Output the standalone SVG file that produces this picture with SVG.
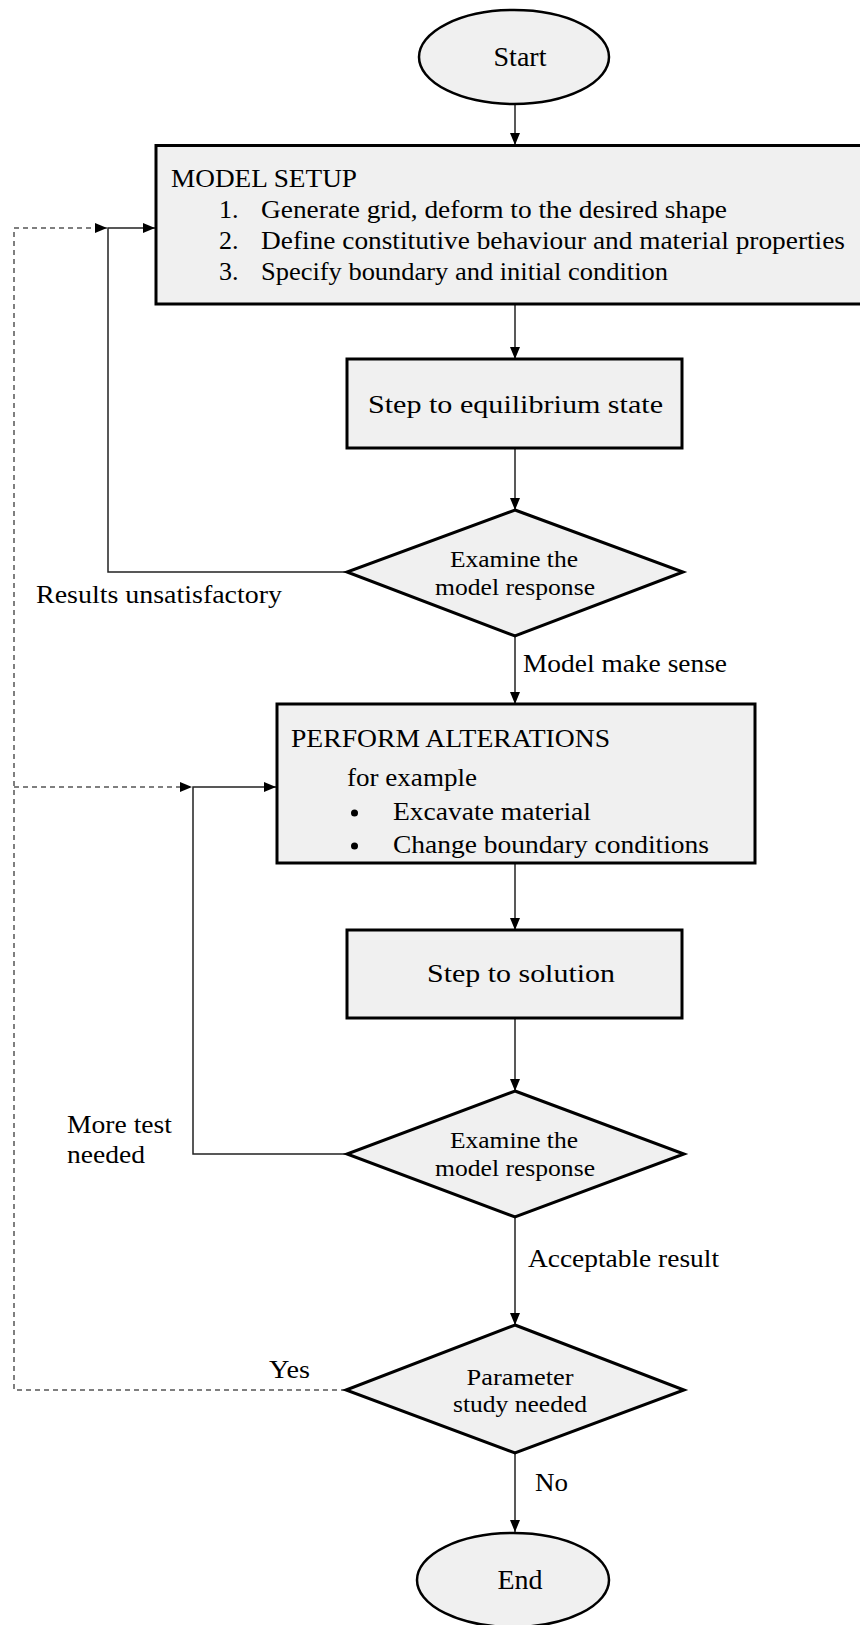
<svg xmlns="http://www.w3.org/2000/svg" width="860" height="1625" viewBox="0 0 860 1625">
<style>
.shape{fill:#f0f0f0;stroke:#000;stroke-width:3}
.oval{fill:#f0f0f0;stroke:#000;stroke-width:2.5}
.t{font-family:"Liberation Serif","Times New Roman",serif;fill:#000}
.box{font-size:26px}
.dia{font-size:23px}
.lab{font-size:25px}
.term{font-size:28px}
.c{fill:none;stroke:#222;stroke-width:1.5}
.d{fill:none;stroke:#555;stroke-width:1.5;stroke-dasharray:5 4}
</style>
<defs>
<marker id="ah" viewBox="0 0 12 10" refX="12" refY="5" markerWidth="12" markerHeight="10" markerUnits="userSpaceOnUse" orient="auto">
<path d="M0,0 L12,5 L0,10 z" fill="#000"/>
</marker>
</defs>
<rect width="860" height="1625" fill="#fff"/>

<g id="connectors">
<line class="c" x1="515" y1="104" x2="515" y2="145" marker-end="url(#ah)"/>
<line class="c" x1="515" y1="304" x2="515" y2="359" marker-end="url(#ah)"/>
<line class="c" x1="515" y1="448" x2="515" y2="510" marker-end="url(#ah)"/>
<line class="c" x1="515" y1="636" x2="515" y2="704" marker-end="url(#ah)"/>
<polyline class="c" points="347,572 108,572 108,228 155,228" marker-end="url(#ah)"/>
<line class="c" x1="515" y1="863" x2="515" y2="930" marker-end="url(#ah)"/>
<line class="c" x1="515" y1="1018" x2="515" y2="1091" marker-end="url(#ah)"/>
<polyline class="c" points="347,1154 193,1154 193,787 276,787" marker-end="url(#ah)"/>
<line class="c" x1="515" y1="1217" x2="515" y2="1325" marker-end="url(#ah)"/>
<line class="c" x1="515" y1="1453" x2="515" y2="1532" marker-end="url(#ah)"/>
<polyline class="d" points="346,1390 14,1390 14,228 107,228" marker-end="url(#ah)"/>
<line class="d" x1="14" y1="787" x2="192" y2="787" marker-end="url(#ah)"/>
<text class="t lab" x="36" y="603" textLength="246" lengthAdjust="spacingAndGlyphs">Results unsatisfactory</text>
<text class="t lab" x="523" y="672" textLength="204" lengthAdjust="spacingAndGlyphs">Model make sense</text>
<text class="t lab" x="67" y="1133" textLength="105" lengthAdjust="spacingAndGlyphs">More test</text>
<text class="t lab" x="67" y="1163" textLength="78" lengthAdjust="spacingAndGlyphs">needed</text>
<text class="t lab" x="528" y="1267" textLength="191" lengthAdjust="spacingAndGlyphs">Acceptable result</text>
<text class="t lab" x="269" y="1378" textLength="41" lengthAdjust="spacingAndGlyphs">Yes</text>
<text class="t lab" x="535" y="1491" textLength="33" lengthAdjust="spacingAndGlyphs">No</text>
</g>

<g id="start">
<ellipse class="oval" cx="514" cy="57" rx="95" ry="47"/>
<text class="t term" x="520" y="66" text-anchor="middle">Start</text>
</g>

<g id="model-setup">
<rect class="shape" x="156" y="145.5" width="712" height="158.5"/>
<text class="t box" x="171" y="187" textLength="186" lengthAdjust="spacingAndGlyphs">MODEL SETUP</text>
<text class="t box" x="219" y="218">1.</text>
<text class="t box" x="261" y="218" textLength="466" lengthAdjust="spacingAndGlyphs">Generate grid, deform to the desired shape</text>
<text class="t box" x="219" y="249">2.</text>
<text class="t box" x="261" y="249" textLength="584" lengthAdjust="spacingAndGlyphs">Define constitutive behaviour and material properties</text>
<text class="t box" x="219" y="280">3.</text>
<text class="t box" x="261" y="280" textLength="407" lengthAdjust="spacingAndGlyphs">Specify boundary and initial condition</text>
</g>

<g id="step-equilibrium">
<rect class="shape" x="347" y="359" width="335" height="89"/>
<text class="t box" x="368" y="413" textLength="295" lengthAdjust="spacingAndGlyphs">Step to equilibrium state</text>
</g>

<g id="examine-1">
<polygon class="shape" points="515,510 683,572 515,636 347,572"/>
<text class="t dia" x="514" y="567" text-anchor="middle" textLength="128" lengthAdjust="spacingAndGlyphs">Examine the</text>
<text class="t dia" x="515" y="595" text-anchor="middle" textLength="160" lengthAdjust="spacingAndGlyphs">model response</text>
</g>

<g id="perform-alterations">
<rect class="shape" x="277" y="704" width="478" height="159"/>
<text class="t box" x="291" y="747" textLength="319" lengthAdjust="spacingAndGlyphs">PERFORM ALTERATIONS</text>
<text class="t box" x="347" y="786" textLength="130" lengthAdjust="spacingAndGlyphs">for example</text>
<circle cx="354.5" cy="813" r="3.5" fill="#000"/>
<text class="t box" x="393" y="820" textLength="198" lengthAdjust="spacingAndGlyphs">Excavate material</text>
<circle cx="354.5" cy="846" r="3.5" fill="#000"/>
<text class="t box" x="393" y="853" textLength="316" lengthAdjust="spacingAndGlyphs">Change boundary conditions</text>
</g>

<g id="step-solution">
<rect class="shape" x="347" y="930" width="335" height="88"/>
<text class="t box" x="427" y="982" textLength="188" lengthAdjust="spacingAndGlyphs">Step to solution</text>
</g>

<g id="examine-2">
<polygon class="shape" points="515,1091 684,1154 515,1217 347,1154"/>
<text class="t dia" x="514" y="1148" text-anchor="middle" textLength="128" lengthAdjust="spacingAndGlyphs">Examine the</text>
<text class="t dia" x="515" y="1176" text-anchor="middle" textLength="160" lengthAdjust="spacingAndGlyphs">model response</text>
</g>

<g id="parameter-study">
<polygon class="shape" points="515,1325 684,1390 515,1453 346,1390"/>
<text class="t dia" x="520" y="1385" text-anchor="middle" textLength="107" lengthAdjust="spacingAndGlyphs">Parameter</text>
<text class="t dia" x="520" y="1412" text-anchor="middle" textLength="134" lengthAdjust="spacingAndGlyphs">study needed</text>
</g>

<g id="end">
<ellipse class="oval" cx="513" cy="1580" rx="96" ry="47"/>
<text class="t term" x="520" y="1589" text-anchor="middle">End</text>
</g>
</svg>
